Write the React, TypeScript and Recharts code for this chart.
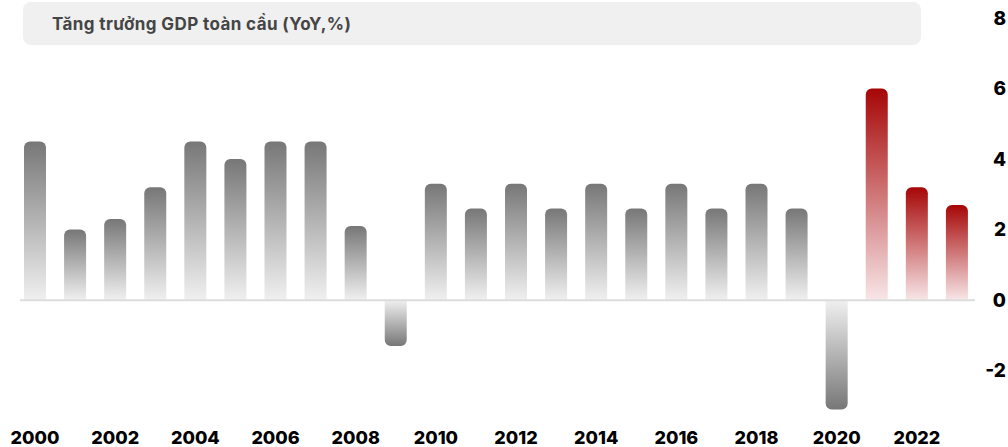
import { BarChart, Bar, XAxis, YAxis, Cell, ReferenceLine } from 'recharts'

const years = [
  '2000', '2001', '2002', '2003', '2004', '2005', '2006', '2007', '2008', '2009', '2010', '2011',
  '2012', '2013', '2014', '2015', '2016', '2017', '2018', '2019', '2020', '2021', '2022', '2023',
]
const growth = [
  4.5, 2.0, 2.3, 3.2, 4.5, 4.0, 4.5, 4.5, 2.1, -1.3, 3.3, 2.6,
  3.3, 2.6, 3.3, 2.6, 3.3, 2.6, 3.3, 2.6, -3.1, 6.0, 3.2, 2.7,
]
const highlightYears = ['2021', '2022', '2023']
const yTicks = [-2, 0, 2, 4, 6, 8]
const title = 'Tăng trưởng GDP toàn cầu (YoY,%)'

const data = years.map((year, i) => ({ year, value: growth[i] }))

const FONT = 'Inter, "Noto Sans", sans-serif'

function YTick({ y, payload }: any) {
  return (
    <text
      x={1006}
      y={y}
      textAnchor="end"
      dominantBaseline="central"
      fontFamily={FONT}
      fontWeight={800}
      fontSize={19}
      fill="#000"
    >
      {payload.value}
    </text>
  )
}

function XTick({ x, y, payload }: any) {
  return (
    <text
      x={x}
      y={y + 16}
      textAnchor="middle"
      dominantBaseline="central"
      fontFamily={FONT}
      fontWeight={800}
      fontSize={18}
      fill="#000"
    >
      {payload.value}
    </text>
  )
}

// zero line runs a few px past the plot on both sides
function ZeroLine(props: any) {
  const { x1, x2, y1, y2 } = props
  if (x1 == null) return null
  return <line x1={x1 - 2} x2={x2 + 5} y1={y1} y2={y2} stroke="#dcdcdc" strokeWidth={2} />
}

function fillFor(year: string, value: number) {
  if (highlightYears.includes(year)) return 'url(#redGrad)'
  return value < 0 ? 'url(#greyGradNeg)' : 'url(#greyGrad)'
}

export default function App() {
  return (
    <div style={{ position: 'absolute', left: 0, top: 0, width: 1008, height: 447, background: '#fff' }}>
      <div
        style={{
          position: 'absolute',
          left: 23,
          top: 2,
          width: 898,
          height: 43,
          background: '#f0f0f0',
          borderRadius: 8,
          boxSizing: 'border-box',
          paddingLeft: 29,
          display: 'flex',
          alignItems: 'center',
          fontFamily: FONT,
          fontWeight: 700,
          fontSize: 17,
          letterSpacing: 0.4,
          color: '#454545',
        }}
      >
        {title}
      </div>
      <BarChart
        width={1008}
        height={447}
        data={data}
        margin={{ top: 18, right: 0, bottom: 0, left: 15 }}
        barSize={22}
      >
        <defs>
          <linearGradient id="greyGrad" x1="0" y1="0" x2="0" y2="1">
            <stop offset="0%" stopColor="#777777" />
            <stop offset="100%" stopColor="#f0f0f0" />
          </linearGradient>
          <linearGradient id="greyGradNeg" x1="0" y1="0" x2="0" y2="1">
            <stop offset="0%" stopColor="#f0f0f0" />
            <stop offset="100%" stopColor="#777777" />
          </linearGradient>
          <linearGradient id="redGrad" x1="0" y1="0" x2="0" y2="1">
            <stop offset="0%" stopColor="#a60606" />
            <stop offset="100%" stopColor="#f8e6e8" />
          </linearGradient>
        </defs>
        <XAxis
          dataKey="year"
          interval={1}
          axisLine={false}
          tickLine={false}
          height={34}
          tick={<XTick />}
        />
        <YAxis
          orientation="right"
          domain={[-3.2, 8]}
          ticks={yTicks}
          axisLine={false}
          tickLine={false}
          width={31}
          tick={<YTick />}
        />
        <Bar dataKey="value" radius={[6, 6, 0, 0]} isAnimationActive={false}>
          {data.map((d) => (
            <Cell key={d.year} fill={fillFor(d.year, d.value)} />
          ))}
        </Bar>
        <ReferenceLine y={0} shape={<ZeroLine />} />
      </BarChart>
    </div>
  )
}
